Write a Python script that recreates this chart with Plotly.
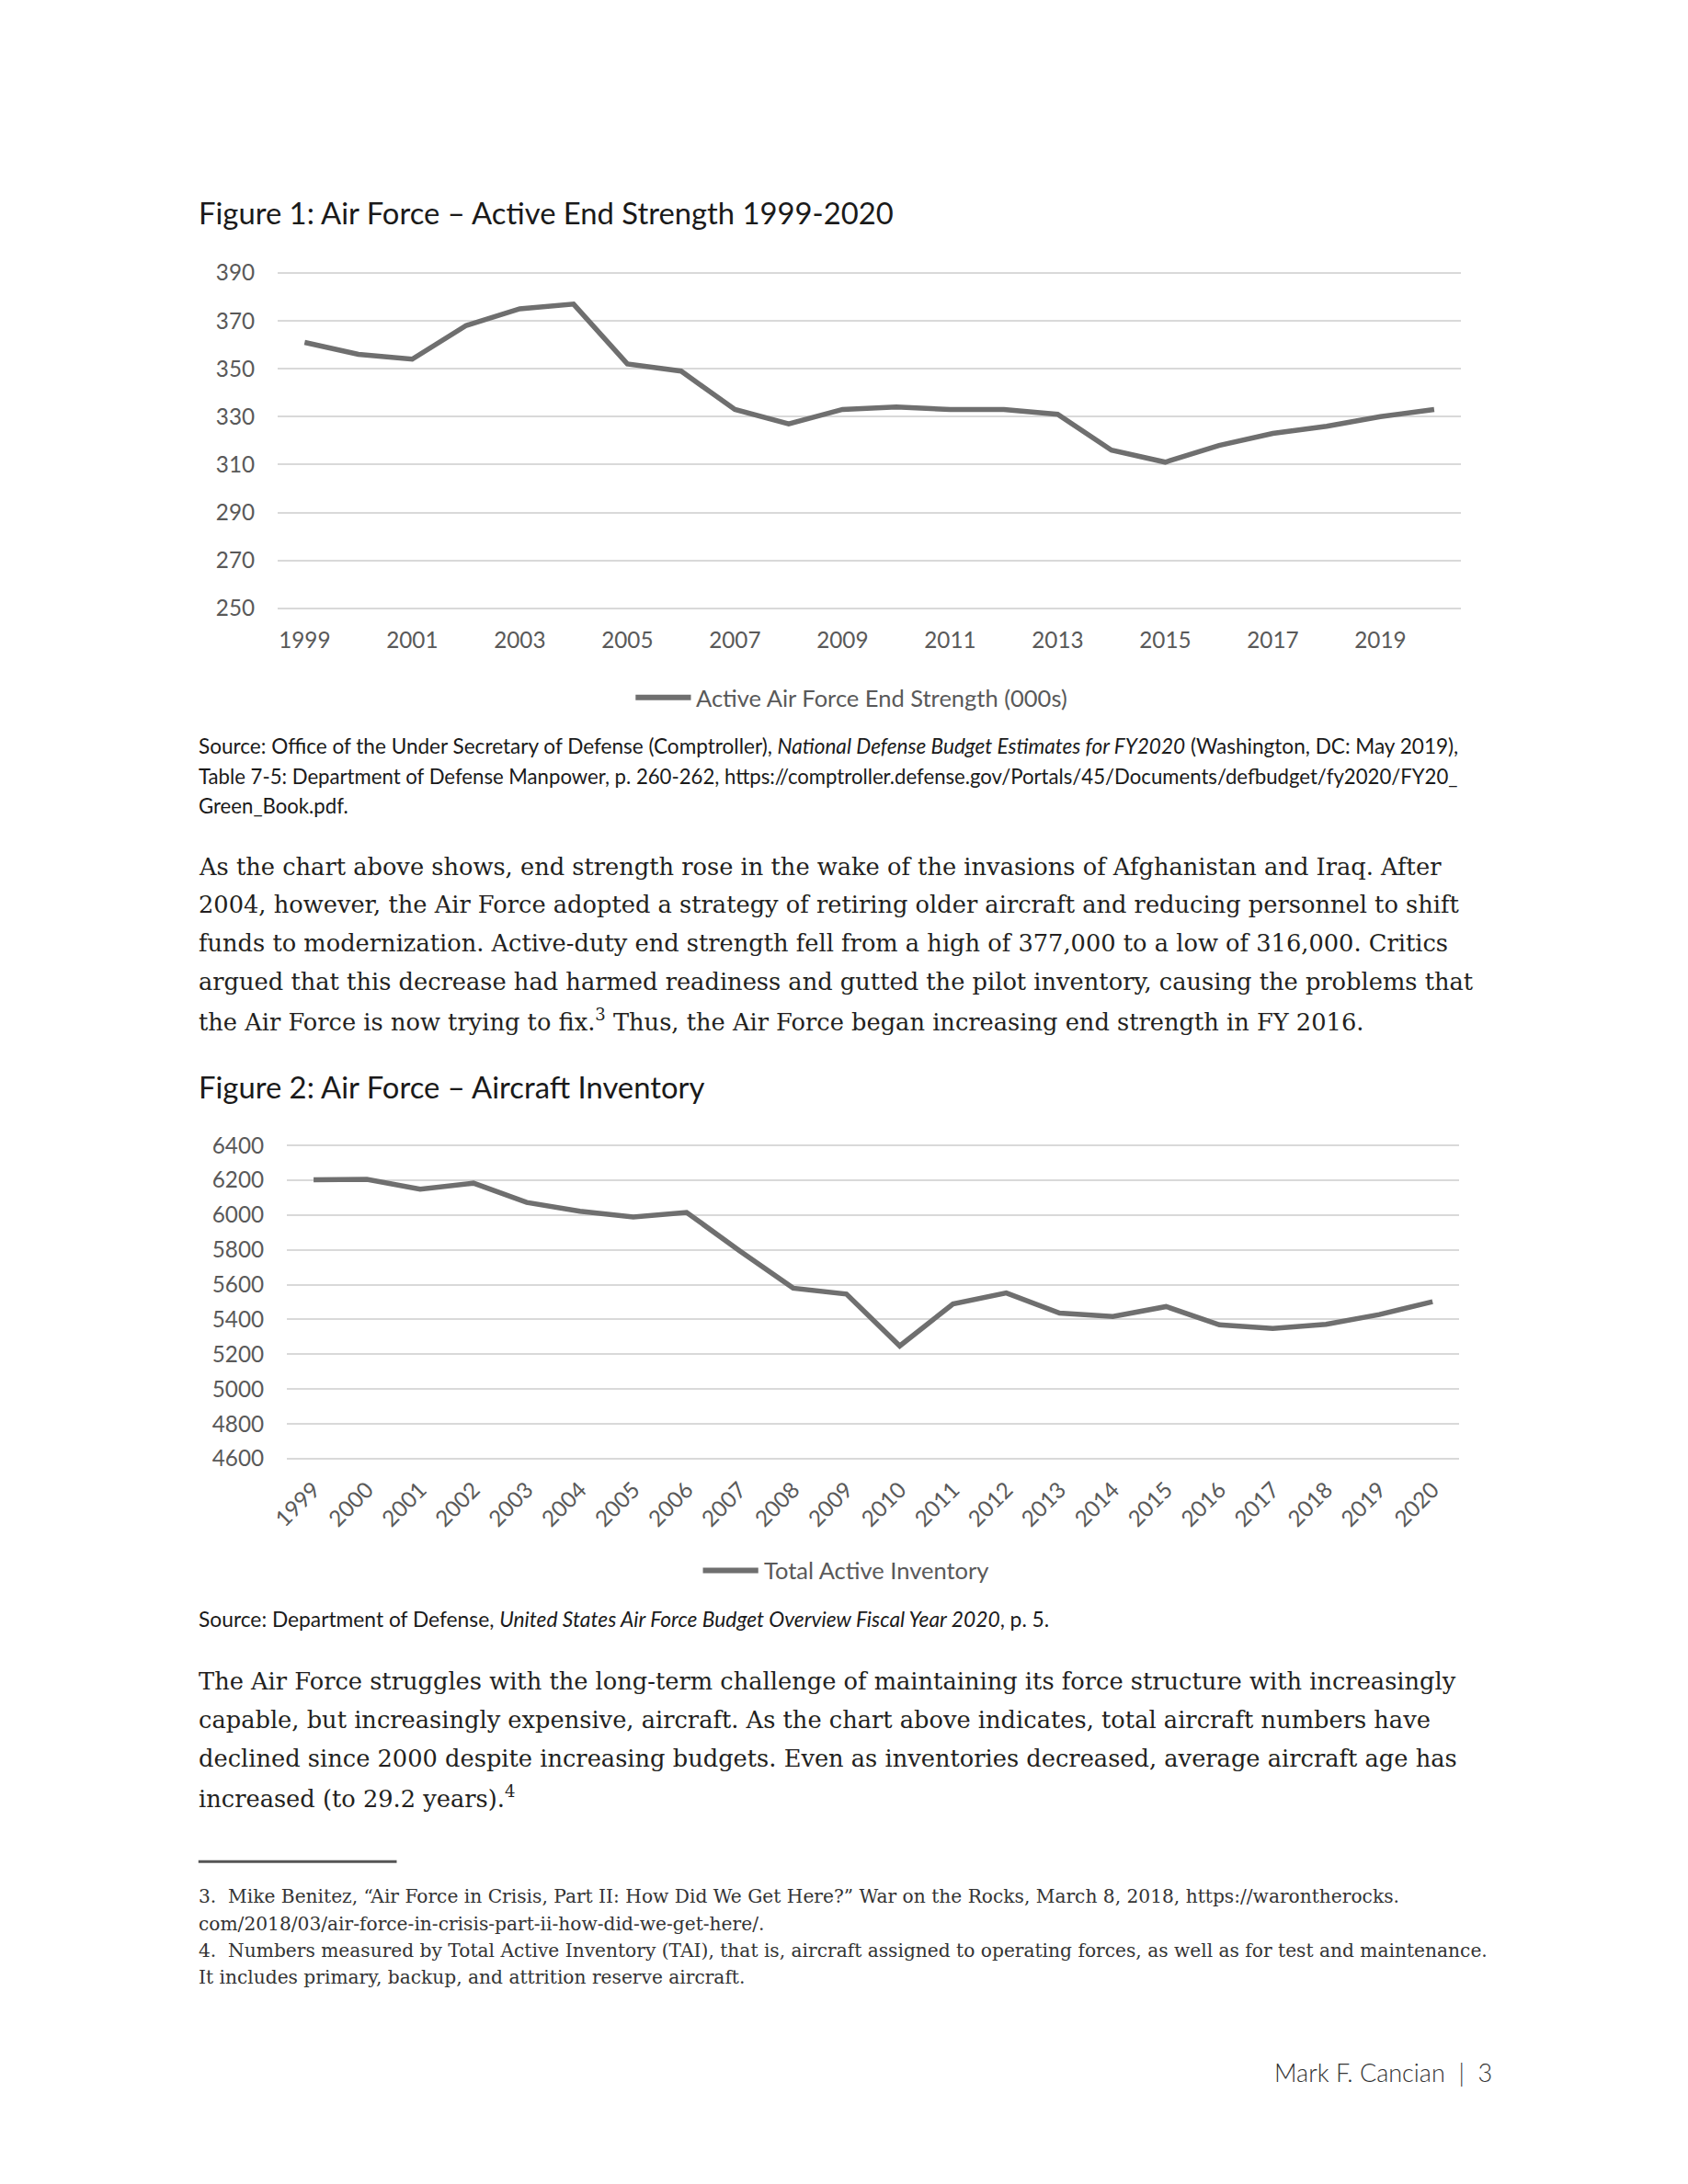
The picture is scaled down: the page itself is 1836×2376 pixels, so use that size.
import plotly.graph_objects as go

W, H = 1836, 2376

# ---------------- data ----------------
years = [str(y) for y in range(1999, 2021)]
end_strength = [361, 356, 354, 368, 375, 377, 352, 349, 333, 327, 333,
                334, 333, 333, 331, 316, 311, 318, 323, 326, 330, 333]
inventory = [6202, 6205, 6148, 6183, 6072, 6022, 5989, 6015, 5793, 5580, 5546,
             5248, 5489, 5552, 5437, 5417, 5474, 5369, 5348, 5372, 5428, 5502]
y1_ticks = [250, 270, 290, 310, 330, 350, 370, 390]
y2_ticks = [4600, 4800, 5000, 5200, 5400, 5600, 5800, 6000, 6200, 6400]
x1_ticks = years[::2]

series1_name = "Active Air Force End Strength (000s)"
series2_name = "Total Active Inventory"

# ---------------- helpers ----------------
# page-pixel -> paper coordinate (with small calibration of the photographed page)
KX, OX = 0.9865, 27.8
KY, OY = 0.9894, 22.0
FS = 0.988

def px_x(p):
    return ((p - OX) / KX) / W

def px_y(p):
    return 1 - ((p - OY) / KY) / H

def fs(s):
    return s / FS

LINE_COLOR = "#6f6f6f"
GRID = "#d9d9d9"
TICK = "#595959"
SANS = "Lato"
SERIF = "DejaVu Serif"
BODY = "#231f20"

fig = go.Figure()
fig.add_trace(go.Scatter(x=years, y=end_strength, mode="lines", name=series1_name,
                         line=dict(color=LINE_COLOR, width=5.5), xaxis="x", yaxis="y",
                         showlegend=False))
fig.add_trace(go.Scatter(x=years, y=inventory, mode="lines", name=series2_name,
                         line=dict(color=LINE_COLOR, width=5.5), xaxis="x2", yaxis="y2",
                         showlegend=False))

# figure 1 geometry (px)
f1_left, f1_right = 302, 1585
f1_top, f1_bot = 297, 662
ppu1 = (f1_bot - f1_top) / (390 - 250)
pad1 = 1.0
# figure 2 geometry (px)
f2_left, f2_right = 312, 1583
f2_top, f2_bot = 1246.5, 1587.5
ppu2 = (f2_bot - f2_top) / (6400 - 4600)
pad2 = 10

tickfont = dict(family=SANS, size=fs(24), color=TICK)

fig.update_layout(
    width=W, height=H,
    margin=dict(l=0, r=0, t=0, b=0),
    paper_bgcolor="white", plot_bgcolor="white",
    xaxis=dict(domain=[px_x(f1_left), px_x(f1_right)], type="category",
               range=[-0.5, 21.5], tickvals=x1_ticks, showgrid=False,
               showline=False, zeroline=False, ticks="", tickfont=tickfont,
               ticklabelstandoff=15, anchor="y", fixedrange=True),
    yaxis=dict(domain=[px_y(f1_bot + pad1 * ppu1), px_y(f1_top - pad1 * ppu1)],
               range=[250 - pad1, 390 + pad1], tickvals=y1_ticks,
               showgrid=True, gridcolor=GRID, gridwidth=2, zeroline=False,
               showline=False, ticks="", tickfont=tickfont,
               ticklabelstandoff=24, anchor="x"),
    xaxis2=dict(domain=[px_x(f2_left), px_x(f2_right)], type="category",
                range=[-0.5, 21.5], tickvals=years, tickangle=-45, showgrid=False,
                showline=False, zeroline=False, ticks="", tickfont=tickfont,
                ticklabelstandoff=12, anchor="y2"),
    yaxis2=dict(domain=[px_y(f2_bot + pad2 * ppu2), px_y(f2_top - pad2 * ppu2)],
                range=[4600 - pad2, 6400 + pad2], tickvals=y2_ticks,
                showgrid=True, gridcolor=GRID, gridwidth=2, zeroline=False,
                showline=False, ticks="", tickfont=tickfont,
                ticklabelstandoff=24, anchor="x2"),
)

ann = []

def text(x, y, s, size, color, family, anchor="left", weight=None):
    f = dict(family=family, size=fs(size), color=color)
    if weight:
        f["weight"] = weight
    ann.append(dict(x=px_x(x), y=px_y(y), xref="paper", yref="paper", text=s,
                    showarrow=False, xanchor=anchor, yanchor="middle", font=f,
                    align=anchor))

LEFT = 214
# titles
text(LEFT, 232, "Figure 1: Air Force \u2013 Active End Strength 1999-2020", 32.4, "#1a1a1a", SANS)
text(LEFT, 1183, "Figure 2: Air Force \u2013 Aircraft Inventory", 32.4, "#1a1a1a", SANS)

def hline(x0, x1, y, color, width):
    return dict(type="line", xref="paper", yref="paper", x0=px_x(x0), x1=px_x(x1),
                y0=px_y(y), y1=px_y(y), line=dict(color=color, width=width))

# legends (manual) and footnote rule
shapes = [
    hline(690, 750, 759, LINE_COLOR, 6),
    hline(763, 823, 1709, LINE_COLOR, 6),
    hline(216, 431, 2026, "#555555", 3),
]
text(753, 759, series1_name, 25.2, TICK, SANS)
text(827, 1709, series2_name, 25.2, TICK, SANS)

# source 1
text(LEFT, 812, "Source: Office of the Under Secretary of Defense (Comptroller), <i>National Defense Budget Estimates for FY2020</i> (Washington, DC: May 2019),", 22.3, "#1a1a1a", SANS)
text(LEFT, 845, "Table 7-5: Department of Defense Manpower, p. 260-262, https://comptroller.defense.gov/Portals/45/Documents/defbudget/fy2020/FY20_", 21.9, "#1a1a1a", SANS)
text(LEFT, 877, "Green_Book.pdf.", 21.9, "#1a1a1a", SANS)

# paragraph 1
body_size = 25.4
para1 = [
    "As the chart above shows, end strength rose in the wake of the invasions of Afghanistan and Iraq. After",
    "2004, however, the Air Force adopted a strategy of retiring older aircraft and reducing personnel to shift",
    "funds to modernization. Active-duty end strength fell from a high of 377,000 to a low of 316,000. Critics",
    "argued that this decrease had harmed readiness and gutted the pilot inventory, causing the problems that",
    "the Air Force is now trying to fix.<sup>3</sup> Thus, the Air Force began increasing end strength in FY 2016.",
]
for i, line in enumerate(para1):
    text(LEFT, 943 + i * 41.75, line, body_size, BODY, SERIF)

# source 2
text(LEFT, 1762, "Source: Department of Defense, <i>United States Air Force Budget Overview Fiscal Year 2020</i>, p. 5.", 22.5, "#1a1a1a", SANS)

para2 = [
    "The Air Force struggles with the long-term challenge of maintaining its force structure with increasingly",
    "capable, but increasingly expensive, aircraft. As the chart above indicates, total aircraft numbers have",
    "declined since 2000 despite increasing budgets. Even as inventories decreased, average aircraft age has",
    "increased (to 29.2 years).<sup>4</sup>",
]
for i, line in enumerate(para2):
    text(LEFT, 1830 + i * 42, line, body_size, BODY, SERIF)

# footnotes
fn_size = 19.95
notes = [
    "3.\u00a0\u00a0Mike Benitez, \u201cAir Force in Crisis, Part II: How Did We Get Here?\u201d War on the Rocks, March 8, 2018, https://warontherocks.",
    "com/2018/03/air-force-in-crisis-part-ii-how-did-we-get-here/.",
    "4.\u00a0\u00a0Numbers measured by Total Active Inventory (TAI), that is, aircraft assigned to operating forces, as well as for test and maintenance.",
    "It includes primary, backup, and attrition reserve aircraft.",
]
for i, line in enumerate(notes):
    text(LEFT, 2064 + i * 29.3, line, fn_size, "#333333", SERIF)

# footer
text(1621, 2255, "Mark F. Cancian\u00a0\u00a0|\u00a0\u00a03", 26.7, "#333333", SANS, anchor="right", weight=300)

fig.update_layout(annotations=ann, shapes=shapes)
fig.write_html("out.html")
